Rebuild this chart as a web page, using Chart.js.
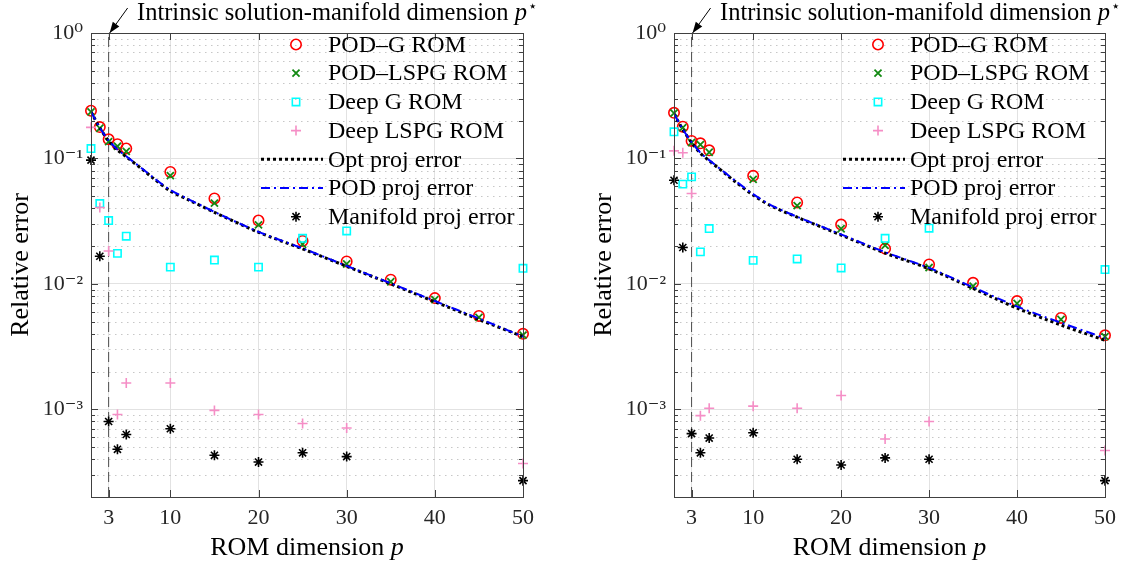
<!DOCTYPE html>
<html>
<head>
<meta charset="utf-8">
<script src="https://cdn.jsdelivr.net/npm/chart.js@4.4.1/dist/chart.umd.min.js"></script>
<style>
  html, body { margin:0; padding:0; background:#fff; }
  #wrap { position:relative; width:1124px; height:565px; overflow:hidden; }
  canvas { position:absolute; top:0; }
</style>
</head>
<body>
<div id="wrap">
  <canvas id="left" width="562" height="565" style="left:0"></canvas>
  <canvas id="right" width="562" height="565" style="left:562px"></canvas>
</div>
<script>
const romDims  = [1, 2, 3, 4, 5, 10, 15, 20, 25, 30, 35, 40, 45, 50];
const projDims = [1, 2, 3, 4, 5, 7, 8, 10, 12, 15, 20, 25, 30, 35, 40, 45, 50];
const xTicks = [3, 10, 20, 30, 40, 50];
const yTicks = [1e-3, 1e-2, 1e-1, 1];
const yTickLabels = ["10⁻³", "10⁻²", "10⁻¹", "10⁰"];
const xMin = 1, xMax = 50, yMin = 2e-4, yMax = 1;
const pStar = 3;
const legendLabels = ["POD–G ROM", "POD–LSPG ROM", "Deep G ROM", "Deep LSPG ROM",
                      "Opt proj error", "POD proj error", "Manifold proj error"];

// left panel
const podG_L     = [0.240, 0.178, 0.142, 0.130, 0.120, 0.078, 0.048, 0.032, 0.0220, 0.0151, 0.0108, 0.0077, 0.00555, 0.0040];
const podLspg_L  = [0.235, 0.174, 0.136, 0.125, 0.114, 0.073, 0.044, 0.0295, 0.0207, 0.0144, 0.0104, 0.0075, 0.0054, 0.0039];
const deepG_L    = [0.120, 0.0437, 0.032, 0.0175, 0.024, 0.0136, 0.0155, 0.0136, 0.0231, 0.0264, null, null, null, 0.0133];
const deepLspg_L = [0.177, 0.0406, 0.0183, 0.00091, 0.00162, 0.00162, 0.00098, 0.00091, 0.00077, 0.00071, null, null, null, 0.00037];
const manifold_L = [0.097, 0.0166, 0.00080, 0.00048, 0.00063, 0.00070, 0.00043, 0.00038, 0.00045, 0.00042, null, null, null, 0.00027];
const optProj_L  = [0.235, 0.175, 0.138, 0.117, 0.103, 0.080, 0.070, 0.055, 0.047, 0.0372, 0.0258, 0.0190, 0.0138, 0.0100, 0.0072, 0.0052, 0.0038];
const podProj_L  = [0.236, 0.176, 0.139, 0.118, 0.104, 0.081, 0.071, 0.056, 0.0475, 0.0375, 0.0260, 0.0192, 0.0139, 0.0101, 0.0073, 0.0053, 0.0038];

// right panel
const podG_R     = [0.231, 0.179, 0.138, 0.132, 0.116, 0.0727, 0.0446, 0.0297, 0.0191, 0.0143, 0.0102, 0.0073, 0.00535, 0.00389];
const podLspg_R  = [0.230, 0.176, 0.134, 0.129, 0.112, 0.068, 0.042, 0.0275, 0.0203, 0.0135, 0.0096, 0.0070, 0.0052, 0.0038];
const deepG_R    = [0.163, 0.0624, 0.0713, 0.018, 0.0276, 0.0154, 0.0158, 0.0134, 0.0231, 0.0278, null, null, null, 0.0130];
const deepLspg_R = [0.115, 0.111, 0.0526, 0.00089, 0.00102, 0.00106, 0.00102, 0.00129, 0.00058, 0.00080, null, null, null, 0.00047];
const manifold_R = [0.067, 0.0195, 0.00064, 0.00045, 0.00059, 0.00065, 0.00040, 0.00036, 0.00041, 0.00040, null, null, null, 0.00027];
const optProj_R  = [0.226, 0.170, 0.134, 0.110, 0.096, 0.074, 0.065, 0.051, 0.042, 0.0340, 0.0245, 0.0176, 0.0132, 0.0092, 0.0064, 0.0047, 0.00355];
const podProj_R  = [0.227, 0.171, 0.135, 0.111, 0.097, 0.075, 0.066, 0.052, 0.0425, 0.0343, 0.0248, 0.0179, 0.0134, 0.0094, 0.0066, 0.0049, 0.0037];

const FONT = "'Liberation Serif', 'DejaVu Serif', serif";
const AX = "#404040";

const markers = [
  { style: "circle",   radius: 5.2, color: "#ff0000", width: 1.6 },
  { style: "crossRot", radius: 5,   color: "#138a13", width: 1.8 },
  { style: "rect",     radius: 5.2, color: "#00ffff", width: 1.6 },
  { style: "cross",    radius: 5,   color: "#f58ec6", width: 1.6 },
  null,
  null,
  { style: "star",     radius: 5,   color: "#000000", width: 1.6 }
];
const lineStyles = {
  4: { color: "#000000", width: 3, dash: [3, 3] },
  5: { color: "#0000ff", width: 2, dash: [9, 4, 2, 4] }
};

function pts(xs, ys){
  return xs.map((x, i) => ({ x, y: ys[i] }));
}

function drawMarker(ctx, m, x, y){
  const r = m.radius;
  ctx.save();
  ctx.strokeStyle = m.color;
  ctx.lineWidth = m.width;
  ctx.beginPath();
  if(m.style === "circle"){
    ctx.arc(x, y, r, 0, Math.PI * 2);
  } else if(m.style === "rect"){
    const s = r * Math.SQRT1_2;
    ctx.rect(x - s, y - s, 2 * s, 2 * s);
  } else {
    const d = r * Math.SQRT1_2;
    if(m.style === "cross" || m.style === "star"){
      ctx.moveTo(x - r, y); ctx.lineTo(x + r, y);
      ctx.moveTo(x, y - r); ctx.lineTo(x, y + r);
    }
    if(m.style === "crossRot" || m.style === "star"){
      ctx.moveTo(x - d, y - d); ctx.lineTo(x + d, y + d);
      ctx.moveTo(x - d, y + d); ctx.lineTo(x + d, y - d);
    }
  }
  ctx.stroke();
  ctx.restore();
}

const decorPlugin = {
  id: "decor",
  beforeDatasetsDraw(chart){
    const {ctx, chartArea: a, scales} = chart;
    const ys = scales.y, xs = scales.x;
    ctx.save();
    // dotted minor grid
    ctx.strokeStyle = "rgba(0,0,0,0.22)";
    ctx.lineWidth = 1;
    ctx.setLineDash([1.5, 4.5]);
    for(let e = -4; e <= -1; e++){
      for(let k = 2; k <= 9; k++){
        const v = k * Math.pow(10, e);
        if(v < yMin || v > yMax) continue;
        const py = Math.round(ys.getPixelForValue(v)) + 0.5;
        ctx.beginPath(); ctx.moveTo(a.left, py); ctx.lineTo(a.right, py); ctx.stroke();
      }
    }
    ctx.setLineDash([]);
    // inward ticks
    ctx.strokeStyle = AX;
    for(let e = -4; e <= 0; e++){
      for(let k = 1; k <= 9; k++){
        const v = k * Math.pow(10, e);
        if(v < yMin || v > yMax) continue;
        const L = k === 1 ? 7 : 4;
        const py = Math.round(ys.getPixelForValue(v)) + 0.5;
        ctx.beginPath();
        ctx.moveTo(a.left, py); ctx.lineTo(a.left + L, py);
        ctx.moveTo(a.right, py); ctx.lineTo(a.right - L, py);
        ctx.stroke();
      }
    }
    for(const v of xTicks){
      const px = Math.round(xs.getPixelForValue(v)) + 0.5;
      ctx.beginPath();
      ctx.moveTo(px, a.bottom); ctx.lineTo(px, a.bottom - 7);
      ctx.moveTo(px, a.top); ctx.lineTo(px, a.top + 7);
      ctx.stroke();
    }
    ctx.restore();
  },
  afterDraw(chart){
    const {ctx, chartArea: a, scales} = chart;
    ctx.save();
    // box
    ctx.strokeStyle = AX;
    ctx.lineWidth = 1;
    ctx.strokeRect(Math.round(a.left) + 0.5, Math.round(a.top) + 0.5,
                   Math.round(a.right - a.left), Math.round(a.bottom - a.top));

    // legend
    const ds = chart.data.datasets;
    ctx.font = "24px " + FONT;
    ctx.fillStyle = "#000";
    ctx.textBaseline = "middle";
    ctx.textAlign = "left";
    for(let i = 0; i < legendLabels.length; i++){
      const y = a.top + 11.5 + i * 28.7;
      if(markers[i]){
        drawMarker(ctx, markers[i], a.right - 227, y);
      } else {
        const ls = lineStyles[i];
        ctx.save();
        ctx.strokeStyle = ls.color;
        ctx.lineWidth = ls.width;
        ctx.setLineDash(ls.dash);
        ctx.beginPath(); ctx.moveTo(a.right - 262, y); ctx.lineTo(a.right - 200, y); ctx.stroke();
        ctx.restore();
      }
      ctx.fillText(ds[i].label, a.right - 195, y + 1);
    }

    // axis titles
    const cx = (a.left + a.right) / 2;
    ctx.textBaseline = "middle";
    const t1 = "ROM dimension ";
    ctx.font = "26px " + FONT;
    const w1 = ctx.measureText(t1).width;
    ctx.font = "italic 26px " + FONT;
    const w2 = ctx.measureText("p").width;
    const sx = cx - (w1 + w2) / 2;
    ctx.font = "26px " + FONT;
    ctx.fillText(t1, sx, 548);
    ctx.font = "italic 26px " + FONT;
    ctx.fillText("p", sx + w1, 548);

    ctx.save();
    ctx.translate(a.left - 70, (a.top + a.bottom) / 2);
    ctx.rotate(-Math.PI / 2);
    ctx.textAlign = "center";
    ctx.font = "26px " + FONT;
    ctx.fillText("Relative error", 0, 0);
    ctx.restore();

    // annotation for p*
    const px = scales.x.getPixelForValue(pStar);
    ctx.textBaseline = "alphabetic";
    const ann = "Intrinsic solution-manifold dimension ";
    ctx.font = "24.5px " + FONT;
    const aw = ctx.measureText(ann).width;
    const ax0 = a.left + 46;
    ctx.fillText(ann, ax0, 20);
    ctx.font = "italic 24.5px " + FONT;
    ctx.fillText("p", ax0 + aw, 20);
    const pw = ctx.measureText("p").width;
    ctx.font = "15px " + FONT;
    ctx.fillText("⋆", ax0 + aw + pw + 1, 11);

    // arrow
    const tipX = px + 1, tipY = a.top;
    const tailX = px + 19, tailY = 8;
    const ang = Math.atan2(tipY - tailY, tipX - tailX);
    ctx.strokeStyle = "#000";
    ctx.lineWidth = 1;
    ctx.beginPath(); ctx.moveTo(tailX, tailY); ctx.lineTo(tipX, tipY); ctx.stroke();
    const hl = 11, hw = 4;
    ctx.beginPath();
    ctx.moveTo(tipX, tipY);
    ctx.lineTo(tipX - hl * Math.cos(ang) + hw * Math.sin(ang), tipY - hl * Math.sin(ang) - hw * Math.cos(ang));
    ctx.lineTo(tipX - hl * Math.cos(ang) - hw * Math.sin(ang), tipY - hl * Math.sin(ang) + hw * Math.cos(ang));
    ctx.closePath();
    ctx.fillStyle = "#000";
    ctx.fill();
    ctx.restore();
  }
};

function pointSet(idx, xs, ys){
  const m = markers[idx];
  return {
    label: legendLabels[idx],
    data: pts(xs, ys),
    showLine: false,
    clip: false,
    pointStyle: m.style,
    pointRadius: m.radius,
    pointHoverRadius: m.radius,
    pointBorderWidth: m.width,
    pointBorderColor: m.color,
    pointBackgroundColor: "rgba(0,0,0,0)",
    borderColor: m.color,
    order: 20 - idx
  };
}

function lineSet(idx, xs, ys){
  const ls = lineStyles[idx];
  return {
    label: legendLabels[idx],
    data: pts(xs, ys),
    borderColor: ls.color,
    borderWidth: ls.width,
    borderDash: ls.dash,
    pointRadius: 0,
    tension: 0.3,
    fill: false,
    order: 20 - idx
  };
}

function makeChart(id, s, axisW, padR){
  const datasets = [
    pointSet(0, romDims, s.podG),
    pointSet(1, romDims, s.podLspg),
    pointSet(2, romDims, s.deepG),
    pointSet(3, romDims, s.deepLspg),
    lineSet(4, projDims, s.opt),
    lineSet(5, projDims, s.pod),
    pointSet(6, romDims, s.manifold),
    {
      label: "p*",
      data: [{ x: pStar, y: yMin }, { x: pStar, y: yMax }],
      borderColor: "#4d4d4d",
      borderWidth: 1,
      borderDash: [10, 5],
      pointRadius: 0,
      order: 30
    }
  ];
  return new Chart(document.getElementById(id), {
    type: "line",
    data: { datasets },
    plugins: [decorPlugin],
    options: {
      responsive: false,
      animation: false,
      events: [],
      layout: { padding: { left: 0, right: padR, top: 33, bottom: 0 } },
      plugins: { legend: { display: false }, tooltip: { enabled: false } },
      scales: {
        x: {
          type: "linear", min: xMin, max: xMax,
          afterBuildTicks: sc => { sc.ticks = xTicks.map(v => ({ value: v })); },
          afterFit: sc => { sc.height = 68; },
          grid: { color: "#e2e2e2", drawTicks: false, lineWidth: 1 },
          border: { color: AX, width: 1 },
          ticks: { font: { family: FONT, size: 22 }, color: "#262626", padding: 8,
                   maxRotation: 0, autoSkip: false, callback: v => String(v) }
        },
        y: {
          type: "logarithmic", min: yMin, max: yMax,
          afterBuildTicks: sc => { sc.ticks = yTicks.map(v => ({ value: v })); },
          afterFit: sc => { sc.width = axisW; },
          grid: { color: "#e2e2e2", drawTicks: false, lineWidth: 1 },
          border: { color: AX, width: 1 },
          ticks: { font: { family: FONT, size: 22 }, color: "#262626", padding: 8,
                   autoSkip: false, callback: (v, i) => yTickLabels[i] }
        }
      }
    }
  });
}

makeChart("left", {
  podG: podG_L, podLspg: podLspg_L, deepG: deepG_L, deepLspg: deepLspg_L,
  manifold: manifold_L, opt: optProj_L, pod: podProj_L
}, 91, 39);

makeChart("right", {
  podG: podG_R, podLspg: podLspg_R, deepG: deepG_R, deepLspg: deepLspg_R,
  manifold: manifold_R, opt: optProj_R, pod: podProj_R
}, 112, 18);
</script>
</body>
</html>
